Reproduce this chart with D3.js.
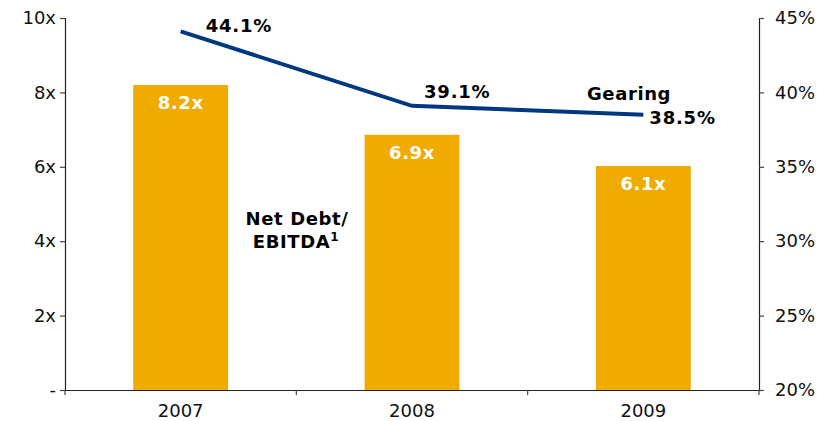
<!DOCTYPE html>
<html><head><meta charset="utf-8">
<script src="https://cdn.jsdelivr.net/npm/d3@7"></script>
<style>
html,body{margin:0;padding:0;background:#fff;}
svg{display:block;font-family:"DejaVu Sans",Verdana,sans-serif;}
</style></head>
<body><svg id="c" width="828" height="421"></svg>
<script>
const years = ["2007","2008","2009"];
const netDebtEbitda = [8.2, 6.86, 6.02];
const netDebtLabels = ["8.2x","6.9x","6.1x"];
const gearing = [44.1, 39.1, 38.5];
const gearingLabels = ["44.1%","39.1%","38.5%"];
const leftTicks = [0,2,4,6,8,10];
const leftTickLabels = ["-","2x","4x","6x","8x","10x"];
const rightTicks = [20,25,30,35,40,45];

(function(){
const mL=65,mR=759,mT=18,mB=390;
const svg=d3.select("#c");

const x=d3.scaleBand().domain(years).range([mL,mR]).paddingInner(0.59).paddingOuter(0.295);
const xc=d3.scaleBand().domain(years).range([mL,mR]);
const yL=d3.scaleLinear().domain([0,10]).range([mB,mT]);
const yR=d3.scaleLinear().domain([20,45]).range([mB,mT]);

// bars
svg.append("g").selectAll("rect").data(years).join("rect")
  .attr("x",d=>x(d)).attr("width",x.bandwidth())
  .attr("y",(d,i)=>yL(netDebtEbitda[i]))
  .attr("height",(d,i)=>yL(0)-yL(netDebtEbitda[i]))
  .attr("fill","#F0AB00");
svg.append("g").selectAll("text").data(years).join("text")
  .attr("x",d=>xc(d)+xc.bandwidth()/2)
  .attr("y",(d,i)=>yL(netDebtEbitda[i])+24)
  .attr("text-anchor","middle").attr("fill","#fff")
  .attr("font-weight","bold").attr("font-size",18).attr("letter-spacing",0.6)
  .text((d,i)=>netDebtLabels[i]);

// left axis
const gL=svg.append("g").attr("transform",`translate(${mL},0)`)
  .call(d3.axisLeft(yL).tickValues(leftTicks).tickFormat((d,i)=>leftTickLabels[i]).tickSizeOuter(0).tickSize(5).tickPadding(4));
// right axis
const gR=svg.append("g").attr("transform",`translate(${mR},0)`)
  .call(d3.axisRight(yR).tickValues(rightTicks).tickFormat(d=>d+"%").tickSizeOuter(0).tickSize(5).tickPadding(11));
// bottom axis
const gB=svg.append("g").attr("transform",`translate(0,${mB})`)
  .call(d3.axisBottom(xc).tickSize(0).tickPadding(14).tickSizeOuter(0));
[gL,gR,gB].forEach(g=>{
  g.selectAll("text").attr("font-size",18).attr("font-family","DejaVu Sans, Verdana, sans-serif").attr("fill","#111");
  g.select(".domain").attr("stroke","#222").attr("stroke-width",1.2);
  g.selectAll(".tick line").attr("stroke","#444").attr("stroke-width",1.2);
});
// bottom separators between categories
const seps=[mL].concat(years.map(d=>xc(d)+xc.bandwidth()));
gB.selectAll("line.sep").data(seps).join("line").attr("class","sep")
  .attr("x1",d=>d).attr("x2",d=>d).attr("y1",0).attr("y2",5)
  .attr("stroke","#444").attr("stroke-width",1.2);

// gearing line
const pts=years.map((d,i)=>[xc(d)+xc.bandwidth()/2, yR(gearing[i])]);
svg.append("path").attr("d",d3.line()(pts))
  .attr("fill","none").attr("stroke","#00387F").attr("stroke-width",4);

const labelOffsets=[[25,1],[12,-8],[6,9]];
svg.append("g").selectAll("text").data(pts).join("text")
  .attr("x",(d,i)=>d[0]+labelOffsets[i][0]).attr("y",(d,i)=>d[1]+labelOffsets[i][1])
  .attr("font-weight","bold").attr("font-size",18).attr("letter-spacing",0.8).attr("fill","#000")
  .text((d,i)=>gearingLabels[i]);

svg.append("text").attr("x",587).attr("y",100)
  .attr("font-weight","bold").attr("font-size",18).attr("letter-spacing",0.6).text("Gearing");

const nd=svg.append("text").attr("text-anchor","middle").attr("font-weight","bold").attr("font-size",18).attr("letter-spacing",0.6);
nd.append("tspan").attr("x",297).attr("y",225).text("Net Debt/");
nd.append("tspan").attr("x",296).attr("y",248).text("EBITDA");
nd.append("tspan").attr("font-size",12).attr("dy",-7).text("1");
})();
</script></body></html>
